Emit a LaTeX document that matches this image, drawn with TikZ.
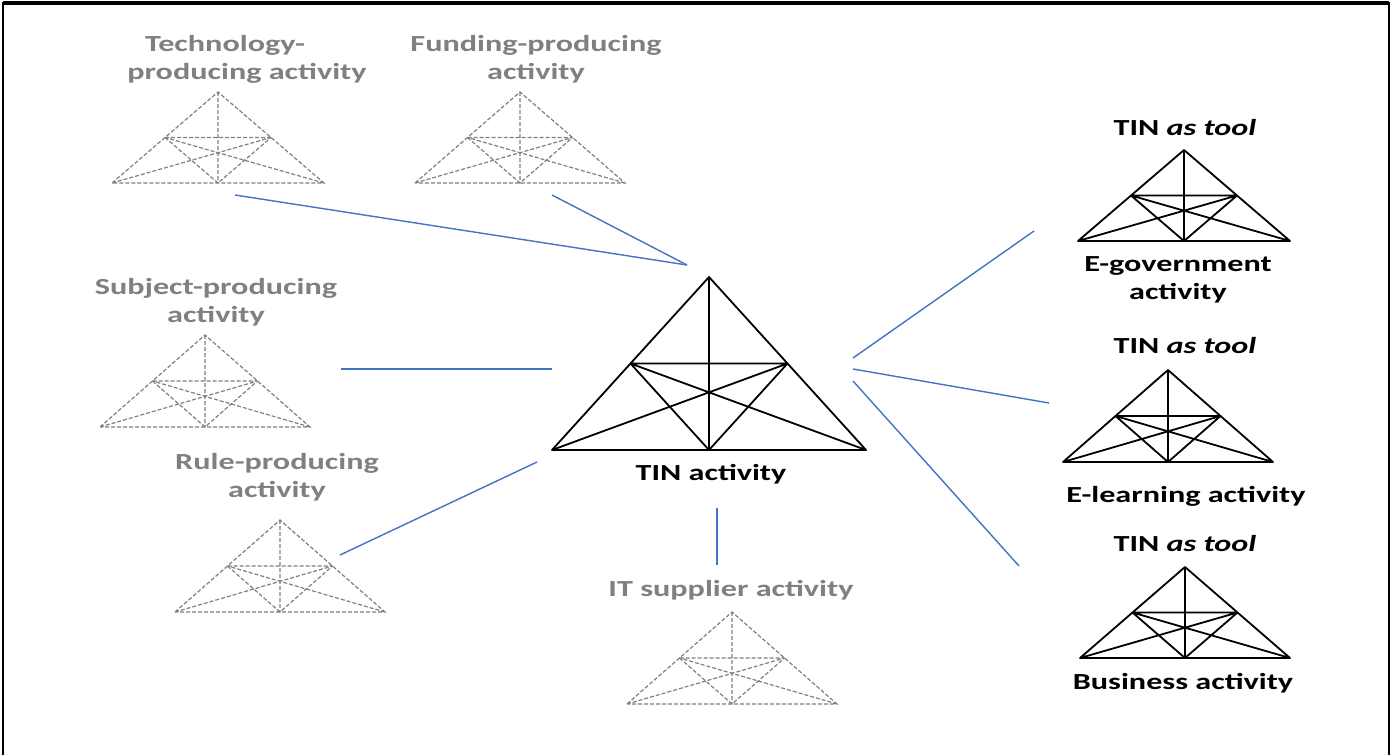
\documentclass[tikz,border=0pt]{standalone}
\usepackage{fontspec}
\setmainfont{Carlito}[FakeStretch=1.4]
\usetikzlibrary{positioning}
\definecolor{linkblue}{RGB}{68,114,196}
\definecolor{fadegray}{RGB}{128,128,128}
\tikzset{
    every node/.style={font=\bfseries\fontsize{11.5}{14}\selectfont, align=center}, % Calibri-like labels
    faded/.style={text=fadegray}, % outer (neighbour) activities
    link/.style={draw=linkblue, line width=0.7pt}, % blue connectors
    solidtri/.style={draw=black, line width=0.9pt, line join=round},
    dashtri/.style={draw=fadegray, line width=0.6pt, dash pattern=on 2pt off 1pt},
    % activity system triangle, base midpoint at the pic position: {half width}{height}
    pics/actsys/.style 2 args={code={
        \coordinate (-l) at (-#1,0);
        \coordinate (-r) at (#1,0);
        \coordinate (-m) at (0,0);
        \coordinate (-a) at (0,-#2);
        \coordinate (-p) at ({-#1/2},{-#2/2});
        \coordinate (-q) at ({#1/2},{-#2/2});
        \draw (-l) -- (-a) -- (-r) -- cycle
              (-a) -- (-m) (-p) -- (-q) (-p) -- (-m) -- (-q)
              (-l) -- (-q) (-r) -- (-p);
    }},
}

\begin{document}
\begin{tikzpicture}[x=0.5pt, y=-0.5pt]
    \useasboundingbox (0,0) rectangle (1392,755);
    % frame
    \draw[line width=1pt] (3,755) -- (3,3) -- (1389,3) -- (1389,755);
    \draw[line width=1.6pt] (3,3) -- (1389,3);

    % central activity
    \pic[solidtri] (tinsys) at (709,450) {actsys={157}{173}};
    \node (tin) at (711,474) {TIN activity};

    % producing activities
    \pic[dashtri] (techsys) at (218,183) {actsys={106}{91}};
    \node[faded] (tech) at (247,59) {Technology-\hspace*{22pt}\\producing activity};
    \pic[dashtri] (fundsys) at (520,183) {actsys={105}{91}};
    \node[faded] (fund) at (536,59) {Funding-producing\\activity};
    \pic[dashtri] (subjsys) at (205,427) {actsys={105}{92}};
    \node[faded] (subj) at (216,302) {Subject-producing\\activity};
    \pic[dashtri] (rulesys) at (280,612) {actsys={105}{92}};
    \node[faded] (rule) at (277,477) {Rule-producing\\activity};
    \pic[dashtri] (itsys) at (732,704) {actsys={105}{92}};
    \node[faded] (itsup) at (731,590) {IT supplier activity};

    % TIN used as tool
    \pic[solidtri] (egovsys) at (1184,241) {actsys={106}{91}};
    \node (tool1) at (1185,128) {TIN \textit{as tool}};
    \node (egov) at (1178,280) {E-government\\activity};
    \pic[solidtri] (elearnsys) at (1168,462) {actsys={105}{92}};
    \node (tool2) at (1185,346) {TIN \textit{as tool}};
    \node (elearn) at (1186,496) {E-learning activity};
    \pic[solidtri] (busisys) at (1185,658) {actsys={105}{91}};
    \node (tool3) at (1185,544) {TIN \textit{as tool}};
    \node (busi) at (1183,683) {Business activity};

    % connector ends
    \coordinate (techend) at (235,195);
    \coordinate (fundend) at (552,195);
    \coordinate (tinin) at (687,265);
    \coordinate (subjend) at (341,369);
    \coordinate (tinleft) at (552,369);
    \coordinate (ruleend) at (340,555);
    \coordinate (tinlow) at (537,462);
    \coordinate (tinbot) at (717,508);
    \coordinate (itend) at (717,565);
    \coordinate (outa) at (853,358);
    \coordinate (outb) at (853,369);
    \coordinate (outc) at (853,381);
    \coordinate (egovend) at (1034,231);
    \coordinate (elearnend) at (1049,403);
    \coordinate (busiend) at (1019,566);

    \draw[link] (techend) -- (tinin);
    \draw[link] (fundend) -- (tinin);
    \draw[link] (subjend) -- (tinleft);
    \draw[link] (ruleend) -- (tinlow);
    \draw[link] (tinbot) -- (itend);
    \draw[link] (outa) -- (egovend);
    \draw[link] (outb) -- (elearnend);
    \draw[link] (outc) -- (busiend);
\end{tikzpicture}
\end{document}
